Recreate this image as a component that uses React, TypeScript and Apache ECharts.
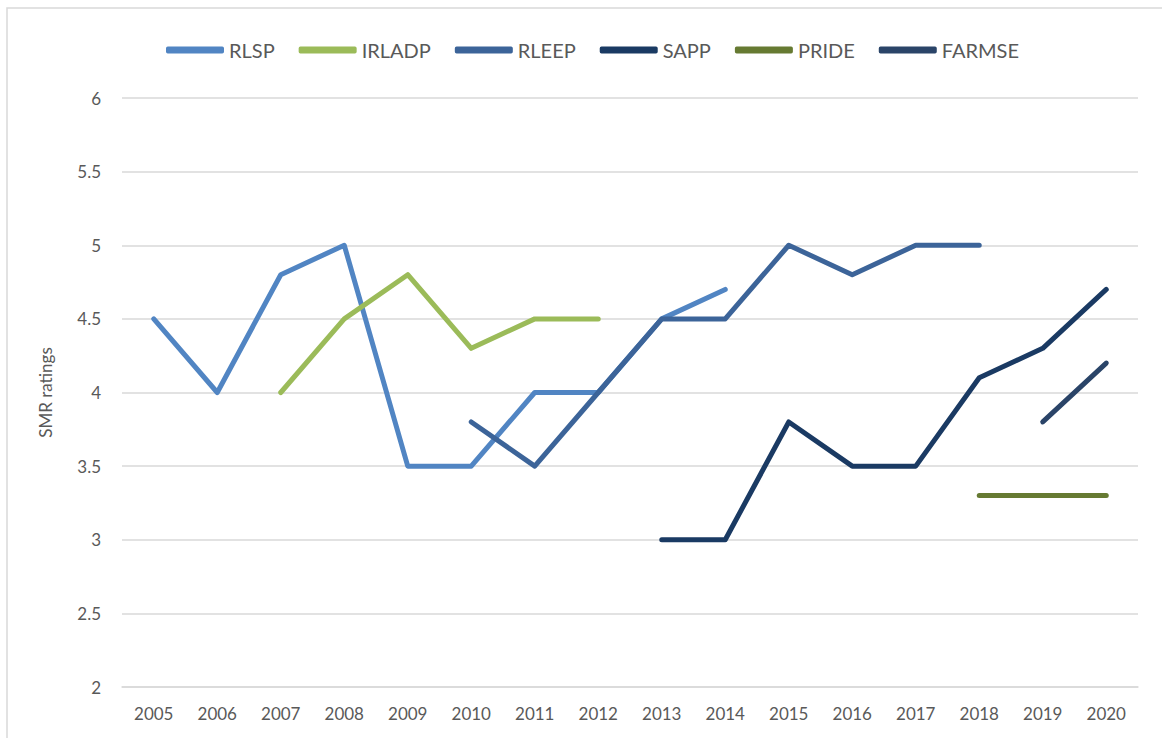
import React, { useEffect, useRef } from "react";
import * as echarts from "echarts";

const years = ["2005","2006","2007","2008","2009","2010","2011","2012","2013","2014","2015","2016","2017","2018","2019","2020"];
const seriesNames = ["RLSP", "IRLADP", "RLEEP", "SAPP", "PRIDE", "FARMSE"];
const rlsp = [4.5, 4.0, 4.8, 5.0, 3.5, 3.5, 4.0, 4.0, 4.5, 4.7, null, null, null, null, null, null];
const irladp = [null, null, 4.0, 4.5, 4.8, 4.3, 4.5, 4.5, null, null, null, null, null, null, null, null];
const rleep = [null, null, null, null, null, 3.8, 3.5, 4.0, 4.5, 4.5, 5.0, 4.8, 5.0, 5.0, null, null];
const sapp = [null, null, null, null, null, null, null, null, 3.0, 3.0, 3.8, 3.5, 3.5, 4.1, 4.3, 4.7];
const pride = [null, null, null, null, null, null, null, null, null, null, null, null, null, 3.3, 3.3, 3.3];
const farmse = [null, null, null, null, null, null, null, null, null, null, null, null, null, null, 3.8, 4.2];
const colors = ["#5185C3", "#9BBB59", "#3C6499", "#1A3A63", "#667A32", "#2A4468"];

const FONT = "Lato";

export default function App() {
  const ref = useRef<HTMLDivElement>(null);
  useEffect(() => {
    if (!ref.current) return;
    const chart = echarts.init(ref.current, undefined, { renderer: "svg" });
    const dataSets = [rlsp, irladp, rleep, sapp, pride, farmse];
    chart.setOption({
      animation: false,
      backgroundColor: "#ffffff",
      textStyle: { fontFamily: FONT },
      graphic: [
        {
          type: "rect",
          shape: { x: 7, y: 8, width: 1200, height: 800 },
          style: { fill: "none", stroke: "#D9D9D9", lineWidth: 1.5 },
          silent: true,
        },
      ],
      legend: {
        top: 35,
        left: 161,
        itemWidth: 58,
        itemHeight: 7,
        itemGap: 24,
        icon: "roundRect",
        textStyle: { color: "#595959", fontSize: 20, fontFamily: FONT },
        data: seriesNames,
      },
      grid: { left: 122, right: 24, top: 98, bottom: 51 },
      xAxis: {
        type: "category",
        data: years,
        boundaryGap: true,
        axisLine: { lineStyle: { color: "#D9D9D9", width: 1.5 } },
        axisTick: { show: false },
        axisLabel: { color: "#595959", fontSize: 17, margin: 18, fontFamily: FONT },
      },
      yAxis: {
        type: "value",
        min: 2,
        max: 6,
        interval: 0.5,
        name: "SMR ratings",
        nameLocation: "middle",
        nameGap: 68,
        nameTextStyle: { color: "#595959", fontSize: 17, fontFamily: FONT },
        axisLine: { show: false },
        axisTick: { show: false },
        axisLabel: { color: "#595959", fontSize: 17, margin: 21, fontFamily: FONT },
        splitLine: { lineStyle: { color: "#D9D9D9", width: 1.5 } },
      },
      series: seriesNames.map((name, i) => ({
        name,
        type: "line",
        data: dataSets[i],
        showSymbol: false,
        symbol: "none",
        connectNulls: false,
        color: colors[i],
        lineStyle: { width: 5, color: colors[i], cap: "round", join: "round" },
      })),
    });
    return () => chart.dispose();
  }, []);
  return (
    <div
      ref={ref}
      style={{ position: "absolute", left: 0, top: 0, width: 1162, height: 738 }}
    />
  );
}
